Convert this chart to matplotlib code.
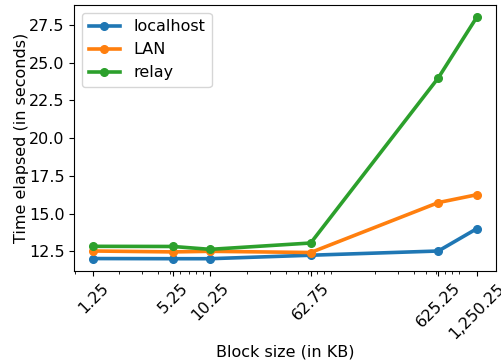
import matplotlib
matplotlib.use("Agg")
import matplotlib.pyplot as plt
from matplotlib.ticker import FixedFormatter, NullFormatter

# block sizes in KB and elapsed times in seconds
block_sizes = [1.25, 5.25, 10.25, 62.75, 625.25, 1250.25]
block_labels = ["{:,}".format(b) for b in block_sizes]
localhost = [12.02, 12.01, 12.01, 12.24, 12.52, 14.0]
lan = [12.52, 12.46, 12.5, 12.42, 15.73, 16.25]
relay = [12.83, 12.82, 12.63, 13.05, 24.0, 28.02]

plt.rcParams['font.size'] = 11.5

fig, ax = plt.subplots(figsize=(5.01, 3.62), dpi=100)
fig.subplots_adjust(left=0.148, right=0.99, top=0.986, bottom=0.252)

ax.plot(block_sizes, localhost, marker='o', lw=2.6, ms=5.5, label='localhost')
ax.plot(block_sizes, lan, marker='o', lw=2.6, ms=5.5, label='LAN')
ax.plot(block_sizes, relay, marker='o', lw=2.6, ms=5.5, label='relay')

ax.set_xscale('log')
ax.set_xticks(block_sizes)
ax.xaxis.set_major_formatter(FixedFormatter(block_labels))
ax.xaxis.set_minor_formatter(NullFormatter())
plt.setp(ax.get_xticklabels(), rotation=45, ha='center', va='top')

ax.set_xlabel('Block size (in KB)', labelpad=2)
ax.set_ylabel('Time elapsed (in seconds)', labelpad=0)
ax.legend(loc='upper left')

fig.savefig('out.png', dpi=100)
